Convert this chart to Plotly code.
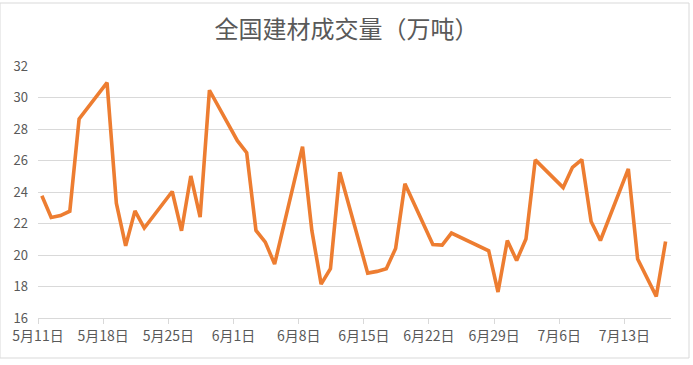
import plotly.graph_objects as go
import pandas as pd

dates = ["2020-05-11","2020-05-12","2020-05-13","2020-05-14","2020-05-15",
         "2020-05-18","2020-05-19","2020-05-20","2020-05-21","2020-05-22",
         "2020-05-25","2020-05-26","2020-05-27","2020-05-28","2020-05-29",
         "2020-06-01","2020-06-02","2020-06-03","2020-06-04","2020-06-05",
         "2020-06-08","2020-06-09","2020-06-10","2020-06-11","2020-06-12",
         "2020-06-15","2020-06-16","2020-06-17","2020-06-18","2020-06-19",
         "2020-06-22","2020-06-23","2020-06-24","2020-06-28",
         "2020-06-29","2020-06-30","2020-07-01","2020-07-02","2020-07-03",
         "2020-07-06","2020-07-07","2020-07-08","2020-07-09","2020-07-10",
         "2020-07-13","2020-07-14","2020-07-16","2020-07-17"]
volume = [23.76, 22.38, 22.5, 22.78, 28.64,
          30.94, 23.29, 20.58, 22.8, 21.71,
          24.03, 21.54, 25.02, 22.4, 30.46,
          27.26, 26.5, 21.56, 20.82, 19.42,
          26.88, 21.56, 18.15, 19.13, 25.26,
          18.85, 18.96, 19.13, 20.42, 24.52,
          20.67, 20.63, 21.39, 20.27,
          17.65, 20.92, 19.65, 21.01, 26.04,
          24.28, 25.57, 26.06, 22.13, 20.92,
          25.47, 19.74, 17.37, 20.86]
title = "全国建材成交量（万吨）"

x = pd.to_datetime(dates) + pd.Timedelta(hours=10)

fig = go.Figure(go.Scatter(x=x, y=volume, mode="lines",
                           line=dict(color="#ED7D31", width=3.6)))

font_main = "Noto Sans CJK SC, Noto Sans, sans-serif"
fig.update_layout(
    width=693, height=365,
    margin=dict(l=38, r=22, t=66, b=47),
    paper_bgcolor="white", plot_bgcolor="white",
    showlegend=False,
    font=dict(family=font_main, size=13, color="#595959"),
    title=dict(text=title, x=0.5, xanchor="center", y=0.92, yanchor="middle",
               font=dict(family=font_main, size=24, color="#595959")),
    xaxis=dict(type="date", range=["2020-05-11", "2020-07-18"],
               tick0="2020-05-11", dtick=7*86400000, tickformat="%-m月%-d日",
               showgrid=False, showline=True, linecolor="#d9d9d9", linewidth=1,
               ticks="outside", ticklen=5, tickcolor="#d9d9d9",
               tickfont=dict(size=14, color="#595959"), zeroline=False),
    yaxis=dict(range=[16, 32], dtick=2, showgrid=True, gridcolor="#d9d9d9",
               gridwidth=1, zeroline=False, showline=False,
               ticklabelstandoff=9,
               tickfont=dict(size=13, color="#595959")),
    shapes=[dict(type="rect", xref="paper", yref="paper",
                 x0=-38/633, x1=(689-38)/633, y0=-(358-318)/252, y1=(318-3)/252,
                 line=dict(color="#d9d9d9", width=1), fillcolor="rgba(0,0,0,0)",
                 layer="below")],
)

fig.write_html("out.html", config={"displayModeBar": False},
               post_script="document.body.style.margin='0';")
